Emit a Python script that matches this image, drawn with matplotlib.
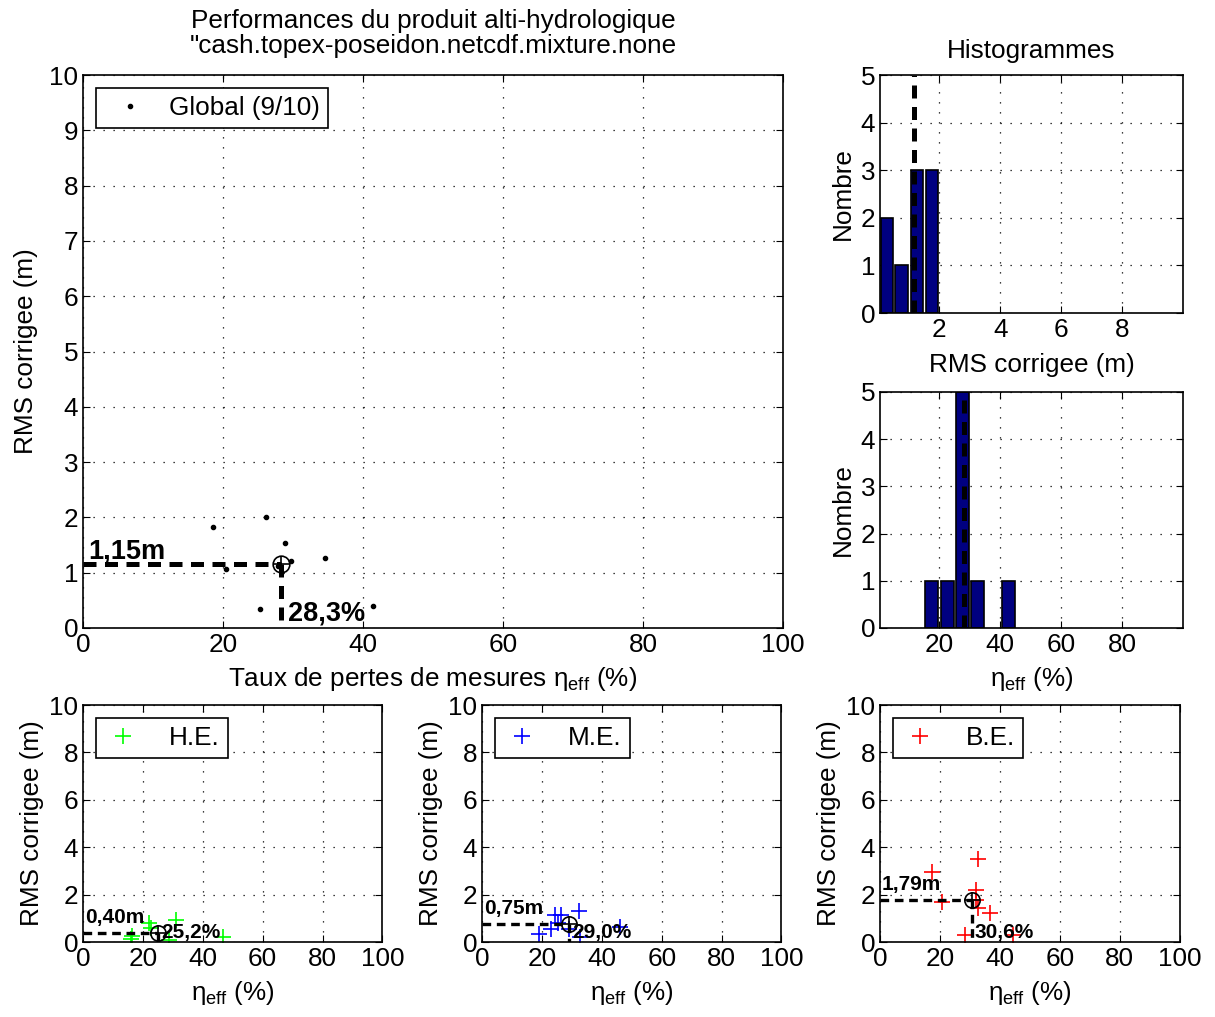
import matplotlib
matplotlib.use("Agg")
import matplotlib.pyplot as plt

plt.rcParams['font.family'] = ['Liberation Sans', 'DejaVu Sans']
plt.rcParams['mathtext.fontset'] = 'custom'
plt.rcParams['mathtext.rm'] = 'Liberation Sans'
plt.rcParams['mathtext.it'] = 'Liberation Sans'
plt.rcParams['font.size'] = 18.8

# global stations (eta_eff %, corrected RMS m)
global_eta = [18.6, 26.1, 28.8, 29.7, 34.6, 20.5, 25.3, 41.4, 27.9]
global_rms = [1.82, 2.00, 1.53, 1.22, 1.26, 1.06, 0.34, 0.39, 1.13]
global_mean = (28.3, 1.15)

# histograms
hist_rms_centers = [0.28, 0.76, 1.26, 1.75]
hist_rms_counts = [2, 1, 3, 3]
hist_eta_centers = [17.6, 22.7, 27.7, 32.6, 42.7]
hist_eta_counts = [1, 1, 5, 1, 1]

# sub groups
he_eta = [16.0, 16.5, 21.9, 22.7, 30.9, 28.6, 46.7]
he_rms = [0.11, 0.25, 0.79, 0.58, 0.93, 0.08, 0.22]
he_mean = (25.2, 0.40)

me_eta = [24.3, 26.3, 32.4, 23.2, 19.1, 29.1, 32.7, 46.2, 25.5]
me_rms = [1.14, 1.14, 1.32, 0.54, 0.32, 0.54, 0.22, 0.65, 0.80]
me_mean = (29.0, 0.75)

be_eta = [32.8, 17.2, 32.2, 20.6, 32.2, 32.8, 36.7, 28.3, 44.4]
be_rms = [3.49, 2.97, 2.19, 1.70, 1.77, 1.42, 1.21, 0.30, 0.30]
be_mean = (30.6, 1.79)

FS = 18.8
eta_lbl = r'$\eta_{\rm eff}$ (%)'
grid_kw = dict(color='black', linestyle=(0, (1, 7)), linewidth=0.9)
dash = (0, (2.6, 1.7))


def fmt(v, unit):
    return ("%.1f" % v).replace('.', ',') + unit if unit == '%' else ("%.2f" % v).replace('.', ',') + unit


def style(ax):
    ax.tick_params(direction='in', length=5, top=True, right=True, labelsize=FS)
    for s in ax.spines.values():
        s.set_linewidth(1.2)
    ax.grid(True, **grid_kw)
    ax.set_axisbelow(True)


def mean_marks(ax, mean, lw, fs, ms, ytxt_m, ytxt_p):
    mx, my = mean
    ax.plot([0, mx], [my, my], color='black', lw=lw, ls=dash, zorder=3)
    ax.plot([mx, mx], [my, 0], color='black', lw=lw, ls=dash, zorder=3)
    ax.plot(mx, my, 'o', mfc='none', mec='black', ms=ms, mew=1.2, zorder=4)
    ax.plot(mx, my, '+', color='black', ms=ms, mew=1.2, zorder=4)
    ax.text(0.7, my + ytxt_m, fmt(my, 'm'), fontsize=fs, fontweight='bold', va='bottom', ha='left', zorder=5)
    ax.text(mx + 1.0, ytxt_p, fmt(mx, '%'), fontsize=fs, fontweight='bold', va='center', ha='left', zorder=5)


fig = plt.figure(figsize=(12.15, 10.17), dpi=100)

# main scatter
ax = fig.add_axes([0.0683, 0.3825, 0.5761, 0.5437])
ax.plot(global_eta, global_rms, '.', color='black', ms=6, label='Global (9/10)')
mean_marks(ax, global_mean, 3.6, 19.5, 12, 0.0, 0.27)
ax.set_xlim(0, 100)
ax.set_ylim(0, 10)
ax.set_xticks(range(0, 101, 20))
ax.set_yticks(range(0, 11))
style(ax)
ax.set_xlabel('Taux de pertes de mesures ' + r'$\eta_{\rm eff}$ (%)', fontsize=FS, labelpad=6)
ax.set_ylabel('RMS corrigee (m)', fontsize=FS, labelpad=8)
ax.set_title('Performances du produit alti-hydrologique\n"cash.topex-poseidon.netcdf.mixture.none',
             fontsize=FS, linespacing=1.05, pad=16)
leg = ax.legend(loc='upper left', fancybox=False, edgecolor='black', framealpha=1,
                fontsize=FS, borderpad=0.3, handletextpad=0.5, bbox_to_anchor=(0.0, 1.0))
leg.get_frame().set_linewidth(1.2)

# RMS histogram
h1 = fig.add_axes([0.7243, 0.6922, 0.2494, 0.234])
h1.bar(hist_rms_centers, hist_rms_counts, width=0.41, color='#000080', edgecolor='black', lw=1.2)
h1.plot([global_mean[1]] * 2, [0, 5], color='black', lw=3.6, ls=dash)
h1.set_xlim(0.05, 10)
h1.set_ylim(0, 5)
h1.set_xticks([2, 4, 6, 8])
h1.set_yticks(range(0, 6))
style(h1)
h1.set_xlabel('RMS corrigee (m)', fontsize=FS, labelpad=8)
h1.set_ylabel('Nombre', fontsize=FS)
h1.set_title('Histogrammes', fontsize=FS, pad=12)

# eta histogram
h2 = fig.add_axes([0.7243, 0.3825, 0.2494, 0.2321])
h2.bar(hist_eta_centers, hist_eta_counts, width=4.2, color='#000080', edgecolor='black', lw=1.2)
h2.plot([global_mean[0]] * 2, [0, 5], color='black', lw=3.6, ls=dash)
h2.set_xlim(0.6, 100)
h2.set_ylim(0, 5)
h2.set_xticks([20, 40, 60, 80])
h2.set_yticks(range(0, 6))
style(h2)
h2.set_xlabel(eta_lbl, fontsize=FS, labelpad=6)
h2.set_ylabel('Nombre', fontsize=FS)

# sub panels
groups = [
    ('H.E.', (0, 1, 0), he_eta, he_rms, he_mean, 0.0683),
    ('M.E.', (0, 0, 1), me_eta, me_rms, me_mean, 0.3967),
    ('B.E.', (1, 0, 0), be_eta, be_rms, be_mean, 0.7243),
]
for name, col, xs, ys, mean, left in groups:
    a = fig.add_axes([left, 0.0737, 0.2465, 0.233])
    a.plot(xs, ys, '+', color=col, ms=11, mew=1.2, label=name)
    mean_marks(a, mean, 2.4, 15, 11, 0.25, 0.4)
    a.set_xlim(0, 100)
    a.set_ylim(0, 10)
    a.set_xticks(range(0, 101, 20))
    a.set_yticks(range(0, 11, 2))
    style(a)
    a.set_xlabel(eta_lbl, fontsize=FS, labelpad=6)
    a.set_ylabel('RMS corrigee (m)', fontsize=FS)
    lg = a.legend(loc='upper left', fancybox=False, edgecolor='black', framealpha=1,
                  fontsize=FS, borderpad=0.3, handletextpad=1.0, handlelength=1.5)
    lg.get_frame().set_linewidth(1.2)

fig.savefig('out.png', dpi=100)
